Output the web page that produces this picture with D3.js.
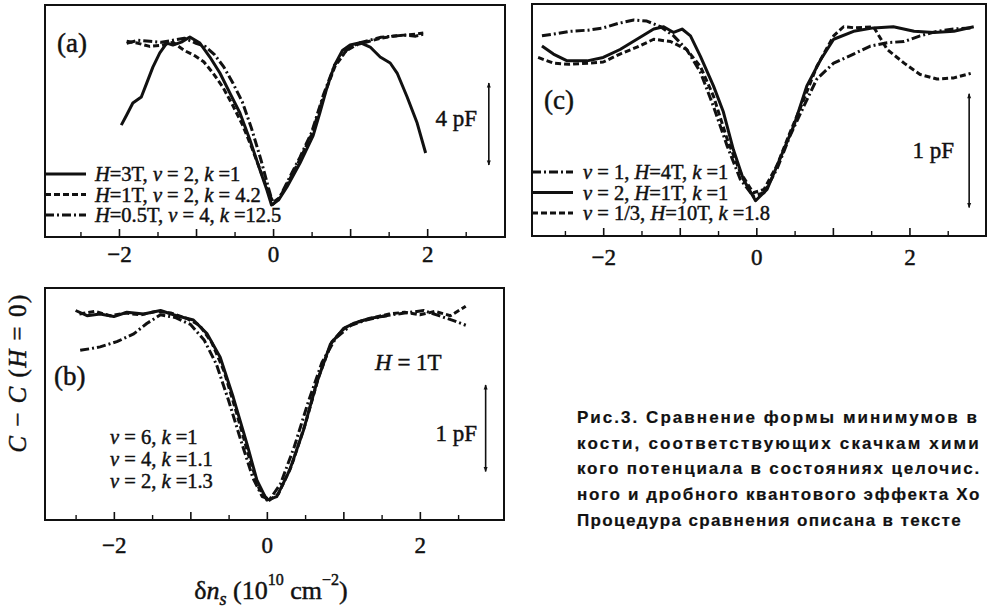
<!DOCTYPE html>
<html>
<head>
<meta charset="utf-8">
<script src="https://cdn.jsdelivr.net/npm/d3@7"></script>
<style>
  body { margin: 0; background: #fff; }
  svg { display: block; }
  text { font-family: "Liberation Serif", "Times New Roman", serif; fill: #111; stroke: #111; stroke-width: 0.45px; }
  .caption { font-family: "Liberation Sans", "DejaVu Sans", sans-serif; font-weight: bold; stroke-width: 0.2px; }
</style>
</head>
<body>
<div class="wrapper"></div>
<script>
const width = 988;
const height = 610;

// panel (a): C - C(H=0), pF
const aSolidX = [-1.97, -1.90, -1.82, -1.71, -1.64, -1.56, -1.47, -1.38, -1.30, -1.19, -1.08, -0.95, -0.82, -0.69, -0.56, -0.43, -0.30, -0.17, -0.08, -0.02, 0.07, 0.18, 0.35, 0.52, 0.61, 0.70, 0.80, 0.90, 1.00, 1.13, 1.26, 1.39, 1.52, 1.61, 1.74, 1.87, 1.98];
const aSolidY = [5.46, 5.95, 6.54, 6.83, 7.51, 8.29, 8.98, 9.46, 9.37, 9.51, 9.76, 9.46, 8.78, 8.00, 7.02, 6.05, 4.73, 3.27, 2.29, 1.56, 1.80, 2.44, 3.61, 4.95, 6.10, 7.30, 8.40, 9.10, 9.37, 9.48, 9.27, 8.78, 8.49, 8.00, 6.83, 5.56, 4.10];
const aDashX = [-1.90, -1.75, -1.60, -1.45, -1.30, -1.15, -1.02, -0.90, -0.78, -0.65, -0.52, -0.40, -0.28, -0.16, -0.06, 0.00, 0.08, 0.20, 0.35, 0.50, 0.65, 0.80, 0.95, 1.10, 1.25, 1.40, 1.55, 1.70, 1.85, 1.95];
const aDashY = [9.55, 9.45, 9.30, 9.35, 9.50, 9.10, 8.85, 8.55, 8.00, 7.30, 6.40, 5.50, 4.40, 3.20, 2.20, 1.70, 1.90, 2.70, 3.80, 5.00, 6.80, 8.30, 9.10, 9.40, 9.55, 9.70, 9.80, 9.85, 9.90, 9.95];
const aDotX = [-1.90, -1.75, -1.60, -1.45, -1.30, -1.15, -1.00, -0.88, -0.76, -0.64, -0.52, -0.40, -0.28, -0.16, -0.06, 0.00, 0.08, 0.20, 0.35, 0.50, 0.65, 0.80, 0.95, 1.10, 1.25, 1.40, 1.55, 1.70, 1.85, 1.95];
const aDotY = [9.45, 9.60, 9.55, 9.50, 9.60, 9.70, 9.45, 9.30, 8.90, 8.30, 7.50, 6.60, 5.30, 3.80, 2.40, 1.60, 1.90, 2.80, 3.90, 5.10, 6.90, 8.40, 9.10, 9.45, 9.60, 9.75, 9.80, 9.85, 9.80, 9.90];

// panel (c)
const cSolidX = [-2.80, -2.65, -2.47, -2.21, -2.00, -1.78, -1.56, -1.34, -1.21, -1.08, -0.97, -0.86, -0.73, -0.56, -0.43, -0.30, -0.17, -0.01, 0.14, 0.31, 0.49, 0.66, 0.84, 1.01, 1.27, 1.53, 1.79, 2.06, 2.32, 2.58, 2.84];
const cSolidY = [1.67, 1.60, 1.54, 1.54, 1.57, 1.64, 1.73, 1.82, 1.84, 1.79, 1.82, 1.76, 1.58, 1.32, 1.09, 0.76, 0.50, 0.31, 0.41, 0.68, 0.97, 1.32, 1.55, 1.73, 1.80, 1.83, 1.84, 1.80, 1.79, 1.80, 1.84];
const cDashX = [-2.85, -2.65, -2.45, -2.20, -2.00, -1.78, -1.56, -1.34, -1.12, -0.91, -0.73, -0.56, -0.38, -0.21, -0.04, 0.10, 0.27, 0.44, 0.62, 0.79, 1.01, 1.14, 1.30, 1.53, 1.71, 1.93, 2.14, 2.36, 2.58, 2.80];
const cDashY = [1.57, 1.52, 1.51, 1.52, 1.53, 1.60, 1.66, 1.73, 1.71, 1.64, 1.49, 1.23, 0.85, 0.56, 0.38, 0.41, 0.62, 0.91, 1.20, 1.49, 1.76, 1.84, 1.83, 1.84, 1.64, 1.52, 1.42, 1.38, 1.39, 1.43];
const cDotX = [-2.80, -2.60, -2.43, -2.20, -2.00, -1.80, -1.60, -1.43, -1.25, -1.08, -0.91, -0.73, -0.56, -0.38, -0.21, -0.04, 0.10, 0.27, 0.44, 0.62, 0.79, 1.01, 1.27, 1.49, 1.71, 1.93, 2.14, 2.36, 2.58, 2.80];
const cDotY = [1.76, 1.78, 1.80, 1.81, 1.83, 1.87, 1.90, 1.89, 1.84, 1.76, 1.64, 1.44, 1.14, 0.79, 0.50, 0.35, 0.38, 0.59, 0.88, 1.14, 1.38, 1.52, 1.60, 1.67, 1.70, 1.71, 1.76, 1.80, 1.82, 1.83];

// panel (b)
const bSolidX = [-2.50, -2.35, -2.18, -2.00, -1.83, -1.61, -1.39, -1.18, -0.96, -0.78, -0.61, -0.44, -0.26, -0.13, 0.00, 0.13, 0.30, 0.48, 0.65, 0.83, 1.00, 1.13, 1.35, 1.57];
const bSolidY = [2.42, 2.36, 2.38, 2.35, 2.40, 2.38, 2.42, 2.36, 2.31, 2.15, 1.88, 1.42, 0.88, 0.46, 0.23, 0.27, 0.58, 1.04, 1.58, 2.03, 2.21, 2.27, 2.33, 2.36];
const bDashX = [-2.45, -2.25, -2.05, -1.85, -1.65, -1.45, -1.25, -1.05, -0.88, -0.72, -0.56, -0.40, -0.24, -0.10, 0.02, 0.15, 0.32, 0.50, 0.68, 0.85, 1.02, 1.20, 1.40, 1.60, 1.80, 2.00, 2.20, 2.40, 2.60];
const bDashY = [2.38, 2.41, 2.36, 2.39, 2.37, 2.41, 2.39, 2.33, 2.25, 2.05, 1.72, 1.25, 0.75, 0.36, 0.22, 0.30, 0.62, 1.10, 1.66, 2.06, 2.22, 2.29, 2.34, 2.38, 2.40, 2.37, 2.41, 2.36, 2.47];
const bDotX = [-2.44, -2.30, -2.18, -1.96, -1.74, -1.57, -1.39, -1.20, -1.00, -0.82, -0.66, -0.50, -0.34, -0.18, -0.06, 0.04, 0.18, 0.36, 0.54, 0.72, 0.90, 1.10, 1.30, 1.55, 1.80, 2.05, 2.25, 2.45, 2.60];
const bDotY = [1.96, 1.98, 2.00, 2.06, 2.15, 2.27, 2.37, 2.34, 2.26, 2.08, 1.80, 1.38, 0.92, 0.48, 0.27, 0.24, 0.42, 0.85, 1.36, 1.82, 2.10, 2.25, 2.31, 2.36, 2.39, 2.42, 2.36, 2.30, 2.25];

const majorTicks = [-2, -1, 0, 1, 2];
const minorTicks = [-2.5, -1.5, -0.5, 0.5, 1.5, 2.5];
const labeledTicks = [-2, 0, 2];

const captionLines = [
  "Рис.3.  Сравнение формы минимумов в",
  "кости, соответствующих скачкам хими",
  "кого потенциала в состояниях целочис.",
  "ного и дробного квантового эффекта Хо",
  "Процедура сравнения описана в тексте"
];
// justified widths of the printed lines
const captionWidths = [404, 404, 404, 404, 385];

const dashStyles = { solid: null, dash: "6,3", dot: "9,3,2,3" };

const svg = d3
  .select(".wrapper")
  .append("svg")
  .attr("width", width)
  .attr("height", height);

const defs = svg.append("defs");
defs.append("marker")
  .attr("id", "arrow")
  .attr("viewBox", "0 0 10 10")
  .attr("refX", 9).attr("refY", 5)
  .attr("markerWidth", 10).attr("markerHeight", 5)
  .attr("markerUnits", "userSpaceOnUse")
  .attr("orient", "auto-start-reverse")
  .append("path")
  .attr("d", "M0,1 L10,5 L0,9 Z")
  .attr("fill", "#111");

const fmt = (d) => (d < 0 ? "\u2212" + Math.abs(d) : String(d));

// legend text pieces: [text, italic?]
const panels = [
  {
    label: "(a)", labelPos: [57, 52],
    left: 45, right: 505, top: 5, bottom: 237,
    xDomain: [-2.96, 3.01], yDomain: [0, 11.32], labelPad: 9,
    series: [
      { xs: aDotX, ys: aDotY, style: "dot" },
      { xs: aDashX, ys: aDashY, style: "dash" },
      { xs: aSolidX, ys: aSolidY, style: "solid" }
    ],
    legend: {
      x: 95, y0: 174, step: 20.5, sample: true,
      rows: [
        { style: "solid", parts: [["H", 1], ["=3T, ", 0], ["ν", 1], [" = 2, ", 0], ["k", 1], [" =1", 0]] },
        { style: "dash", parts: [["H", 1], ["=1T, ", 0], ["ν", 1], [" = 2, ", 0], ["k", 1], [" = 4.2", 0]] },
        { style: "dot", parts: [["H", 1], ["=0.5T, ", 0], ["ν", 1], [" = 4, ", 0], ["k", 1], [" =12.5", 0]] }
      ]
    },
    arrow: { x: 2.80, y1: 3.51, y2: 7.51, text: "4 pF", tx: 477, ty: 126 }
  },
  {
    label: "(c)", labelPos: [544, 109],
    left: 532, right: 986, top: 4, bottom: 236,
    xDomain: [-2.93, 3.0], yDomain: [0, 2.04], labelPad: 13,
    series: [
      { xs: cDotX, ys: cDotY, style: "dot" },
      { xs: cDashX, ys: cDashY, style: "dash" },
      { xs: cSolidX, ys: cSolidY, style: "solid" }
    ],
    legend: {
      x: 583, y0: 172, step: 20.5, sample: true,
      rows: [
        { style: "dot", parts: [["ν", 1], [" = 1, ", 0], ["H", 1], ["=4T, ", 0], ["k", 1], [" =1", 0]] },
        { style: "solid", parts: [["ν", 1], [" = 2, ", 0], ["H", 1], ["=1T, ", 0], ["k", 1], [" =1", 0]] },
        { style: "dash", parts: [["ν", 1], [" = 1/3, ", 0], ["H", 1], ["=10T, ", 0], ["k", 1], [" =1.8", 0]] }
      ]
    },
    arrow: { x: 2.78, y1: 0.25, y2: 1.25, text: "1 pF", tx: 954, ty: 158 }
  },
  {
    label: "(b)", labelPos: [54, 385],
    left: 45, right: 504, top: 288, bottom: 520,
    xDomain: [-2.9, 3.1], yDomain: [0, 2.68], labelPad: 17,
    series: [
      { xs: bDotX, ys: bDotY, style: "dot" },
      { xs: bDashX, ys: bDashY, style: "dash" },
      { xs: bSolidX, ys: bSolidY, style: "solid" }
    ],
    legend: {
      x: 110, y0: 437, step: 22, sample: false,
      rows: [
        { parts: [["ν", 1], [" = 6, ", 0], ["k", 1], [" =1", 0]] },
        { parts: [["ν", 1], [" = 4, ", 0], ["k", 1], [" =1.1", 0]] },
        { parts: [["ν", 1], [" = 2, ", 0], ["k", 1], [" =1.3", 0]] }
      ]
    },
    arrow: { x: 2.86, y1: 0.56, y2: 1.56, text: "1 pF", tx: 477, ty: 441 },
    note: { x: 375, y: 370, parts: [["H", 1], [" = 1T", 0]] }
  }
];

function addParts(textSel, parts) {
  for (const [t, it] of parts) {
    textSel.append("tspan").text(t).style("font-style", it ? "italic" : "normal");
  }
}

for (const p of panels) {
  const x = d3.scaleLinear().domain(p.xDomain).range([p.left, p.right]);
  const y = d3.scaleLinear().domain(p.yDomain).range([p.bottom, p.top]);
  const g = svg.append("g");

  // ticks (inward)
  g.append("g")
    .attr("transform", `translate(0,${p.bottom})`)
    .call(d3.axisBottom(x).tickValues(majorTicks).tickSize(-8).tickPadding(p.labelPad)
      .tickFormat((d) => (labeledTicks.includes(d) ? fmt(d) : "")))
    .call((s) => s.select(".domain").remove())
    .call((s) => s.selectAll("line").attr("stroke", "#111").attr("stroke-width", 1.6))
    .call((s) => s.selectAll("text").attr("font-size", 23).attr("fill", "#111")
      .style("font-family", '"Liberation Serif", serif'));
  g.append("g")
    .attr("transform", `translate(0,${p.bottom})`)
    .call(d3.axisBottom(x).tickValues(minorTicks).tickSize(-5).tickFormat(""))
    .call((s) => s.select(".domain").remove())
    .call((s) => s.selectAll("line").attr("stroke", "#111").attr("stroke-width", 1.4));

  // frame
  g.append("rect")
    .attr("x", p.left).attr("y", p.top)
    .attr("width", p.right - p.left).attr("height", p.bottom - p.top)
    .attr("fill", "none").attr("stroke", "#111").attr("stroke-width", 2);

  // curves
  for (const s of p.series) {
    const pts = d3.zip(s.xs, s.ys);
    g.append("path")
      .datum(pts)
      .attr("fill", "none")
      .attr("stroke", "#111")
      .attr("stroke-width", 3)
      .attr("stroke-linejoin", "round")
      .attr("stroke-dasharray", dashStyles[s.style])
      .attr("d", d3.line().x((d) => x(d[0])).y((d) => y(d[1])));
  }

  // panel label
  g.append("text")
    .attr("x", p.labelPos[0]).attr("y", p.labelPos[1])
    .attr("font-size", 27)
    .text(p.label);

  // legend
  const L = p.legend;
  L.rows.forEach((r, i) => {
    const yy = L.y0 + i * L.step;
    if (L.sample) {
      g.append("line")
        .attr("x1", p.left).attr("x2", p.left + 41)
        .attr("y1", yy).attr("y2", yy)
        .attr("stroke", "#111").attr("stroke-width", 3)
        .attr("stroke-dasharray", dashStyles[r.style]);
    }
    const t = g.append("text")
      .attr("x", L.x).attr("y", yy + 7)
      .attr("font-size", 20.5);
    addParts(t, r.parts);
  });

  // scale arrow
  const A = p.arrow;
  g.append("line")
    .attr("x1", x(A.x)).attr("x2", x(A.x))
    .attr("y1", y(A.y1)).attr("y2", y(A.y2))
    .attr("stroke", "#111").attr("stroke-width", 1.6)
    .attr("marker-start", "url(#arrow)")
    .attr("marker-end", "url(#arrow)");
  g.append("text")
    .attr("x", A.tx).attr("y", A.ty)
    .attr("text-anchor", "end")
    .attr("font-size", 23)
    .text(A.text);

  if (p.note) {
    const t = g.append("text")
      .attr("x", p.note.x).attr("y", p.note.y)
      .attr("font-size", 23);
    addParts(t, p.note.parts);
  }
}

// y axis title
const yt = svg.append("text")
  .attr("transform", "translate(26,373) rotate(-90)")
  .attr("text-anchor", "middle")
  .attr("font-size", 25)
  .attr("letter-spacing", 1.5);
addParts(yt, [["C", 1], [" \u2212 ", 0], ["C", 1], [" (", 0], ["H", 1], [" = 0)", 0]]);

// x axis title
const xt = svg.append("text")
  .attr("x", 271).attr("y", 599)
  .attr("text-anchor", "middle")
  .attr("font-size", 26);
xt.append("tspan").text("δ");
xt.append("tspan").text("n").style("font-style", "italic");
xt.append("tspan").text("s").style("font-style", "italic").attr("font-size", 18).attr("dy", 6);
xt.append("tspan").text(" (10").attr("dy", -6);
xt.append("tspan").text("10").attr("font-size", 16).attr("dy", -14);
xt.append("tspan").text(" cm").attr("dy", 14);
xt.append("tspan").text("\u22122").attr("font-size", 16).attr("dy", -14);
xt.append("tspan").text(")").attr("dy", 14);

// caption, each line spread like the justified print
svg.append("g")
  .selectAll("text")
  .data(captionLines)
  .join("text")
  .attr("class", "caption")
  .attr("x", 577)
  .attr("y", (d, i) => 423 + i * 25.7)
  .attr("font-size", 17)
  .text((d) => d)
  .each(function (d, i) {
    const natural = this.getComputedTextLength();
    const sp = Math.max(0, (captionWidths[i] - natural) / d.length);
    d3.select(this).attr("letter-spacing", sp);
  });
</script>
</body>
</html>
